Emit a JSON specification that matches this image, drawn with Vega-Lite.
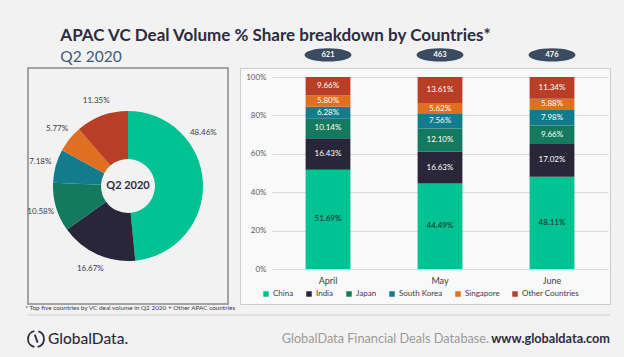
{
  "$schema": "https://vega.github.io/schema/vega-lite/v6.json",
  "background": "#f2f2f2",
  "padding": {"top": 27, "left": 24, "right": 14, "bottom": 7},
  "config": {"font": "Lato", "view": {"stroke": null}},
  "datasets": {
    "shares": [
      {"month": "April", "country": "China", "rank": 1, "share": 0.5169},
      {"month": "April", "country": "India", "rank": 2, "share": 0.1643},
      {"month": "April", "country": "Japan", "rank": 3, "share": 0.1014},
      {"month": "April", "country": "South Korea", "rank": 4, "share": 0.0628},
      {"month": "April", "country": "Singapore", "rank": 5, "share": 0.058},
      {"month": "April", "country": "Other Countries", "rank": 6, "share": 0.0966},
      {"month": "May", "country": "China", "rank": 1, "share": 0.4449},
      {"month": "May", "country": "India", "rank": 2, "share": 0.1663},
      {"month": "May", "country": "Japan", "rank": 3, "share": 0.121},
      {"month": "May", "country": "South Korea", "rank": 4, "share": 0.0756},
      {"month": "May", "country": "Singapore", "rank": 5, "share": 0.0562},
      {"month": "May", "country": "Other Countries", "rank": 6, "share": 0.1361},
      {"month": "June", "country": "China", "rank": 1, "share": 0.4811},
      {"month": "June", "country": "India", "rank": 2, "share": 0.1702},
      {"month": "June", "country": "Japan", "rank": 3, "share": 0.0966},
      {"month": "June", "country": "South Korea", "rank": 4, "share": 0.0798},
      {"month": "June", "country": "Singapore", "rank": 5, "share": 0.0588},
      {"month": "June", "country": "Other Countries", "rank": 6, "share": 0.1134}
    ],
    "q2": [
      {"country": "China", "rank": 1, "share": 0.4846},
      {"country": "India", "rank": 2, "share": 0.1667},
      {"country": "Japan", "rank": 3, "share": 0.1058},
      {"country": "South Korea", "rank": 4, "share": 0.0718},
      {"country": "Singapore", "rank": 5, "share": 0.0577},
      {"country": "Other Countries", "rank": 6, "share": 0.1135}
    ],
    "totals": [
      {"month": "April", "deals": 621},
      {"month": "May", "deals": 463},
      {"month": "June", "deals": 476}
    ],
    "one": [{"label": "Q2 2020"}]
  },
  "title": {
    "text": "APAC VC Deal Volume % Share breakdown by Countries*",
    "subtitle": "Q2 2020",
    "anchor": "start",
    "dx": 36,
    "offset": -19,
    "font": "Lato",
    "fontSize": 17,
    "fontWeight": "bold",
    "color": "#2d2c3e",
    "subtitleFont": "Lato",
    "subtitleFontSize": 15.5,
    "subtitleColor": "#3f5b7a",
    "subtitlePadding": 5
  },
  "spacing": 1,
  "vconcat": [
    {
      "bounds": "flush",
      "spacing": 12,
      "resolve": {"scale": {"color": "independent"}, "legend": {"color": "independent"}},
      "hconcat": [
        {
          "width": 200,
          "height": 236,
          "view": {"fill": "#f2f2f2", "stroke": "#a3a3a3", "strokeWidth": 2},
          "title": {
            "text": "* Top five countries by VC deal volume in Q2 2020  + Other APAC countries",
            "orient": "bottom",
            "anchor": "start",
            "fontSize": 6.4,
            "fontWeight": "normal",
            "color": "#404040",
            "offset": 1,
            "dx": -2
          },
          "layer": [
            {
              "data": {"name": "q2"},
              "mark": {"type": "arc", "innerRadius": 27, "outerRadius": 75},
              "encoding": {
                "theta": {"field": "share", "type": "quantitative", "stack": true},
                "order": {"field": "rank", "type": "quantitative"},
                "color": {
                  "field": "country",
                  "type": "nominal",
                  "scale": {
                    "domain": ["China", "India", "Japan", "South Korea", "Singapore", "Other Countries"],
                    "range": ["#00c292", "#29263a", "#137a60", "#137c8c", "#e06f22", "#b83e26"]
                  },
                  "legend": null
                }
              }
            },
            {
              "data": {"name": "q2"},
              "mark": {"type": "text", "radius": 91, "fontSize": 8, "color": "#404040"},
              "encoding": {
                "theta": {"field": "share", "type": "quantitative", "stack": true},
                "order": {"field": "rank", "type": "quantitative"},
                "text": {"condition": {"test": "datum.country !== 'China'", "field": "share", "type": "quantitative", "format": ".2%"}, "value": ""}
              }
            },
            {
              "data": {"name": "q2"},
              "mark": {"type": "text", "radius": 92, "fontSize": 8, "color": "#404040"},
              "encoding": {
                "theta": {"field": "share", "type": "quantitative", "stack": true, "bandPosition": 0.315},
                "order": {"field": "rank", "type": "quantitative"},
                "text": {"condition": {"test": "datum.country === 'China'", "field": "share", "type": "quantitative", "format": ".2%"}, "value": ""}
              }
            },
            {
              "data": {"name": "one"},
              "mark": {"type": "text", "fontSize": 11, "fontWeight": "bold", "color": "#2d2c3e"},
              "encoding": {"text": {"field": "label"}}
            }
          ]
        },
        {
          "width": 370,
          "height": 236,
          "view": {"fill": "#f9f9f9", "stroke": "#cccccc"},
          "encoding": {
            "x": {
              "field": "month",
              "type": "nominal",
              "sort": ["April", "May", "June"],
              "scale": {"range": [32, 368], "paddingInner": 0.6, "paddingOuter": 0.3},
              "axis": {"title": null, "domain": false, "ticks": false, "labelAngle": 0, "labelFontSize": 9, "labelColor": "#404040", "labelPadding": 7, "offset": -35}
            }
          },
          "layer": [
            {
              "data": {"name": "shares"},
              "mark": {"type": "bar"},
              "encoding": {
                "y": {
                  "field": "share",
                  "type": "quantitative",
                  "stack": "zero",
                  "scale": {"domain": [0, 1], "range": [201, 9], "nice": false},
                  "axis": {"title": null, "domain": false, "ticks": false, "values": [0, 0.2, 0.4, 0.6, 0.8, 1], "format": "%", "labelFontSize": 8, "labelColor": "#595959", "labelPadding": 6, "offset": -32, "gridColor": "#d9d9d9"}
                },
                "order": {"field": "rank", "type": "quantitative"},
                "color": {
                  "field": "country",
                  "type": "nominal",
                  "scale": {
                    "domain": ["China", "India", "Japan", "South Korea", "Singapore", "Other Countries"],
                    "range": ["#00c292", "#29263a", "#137a60", "#137c8c", "#e06f22", "#b83e26"]
                  },
                  "legend": {"orient": "none", "legendX": 22, "legendY": 222, "direction": "horizontal", "title": null, "symbolType": "square", "symbolSize": 30, "symbolStrokeWidth": 0, "labelFontSize": 8, "labelColor": "#404040", "labelOffset": 3, "columnPadding": 11}
                }
              }
            },
            {
              "data": {"name": "shares"},
              "mark": {"type": "text", "fontSize": 8},
              "encoding": {
                "y": {"field": "share", "type": "quantitative", "stack": "zero", "bandPosition": 0.5},
                "order": {"field": "rank", "type": "quantitative"},
                "text": {"field": "share", "type": "quantitative", "format": ".2%"},
                "color": {"condition": {"test": "datum.country === 'China'", "value": "#1e2a26"}, "value": "#ffffff"}
              }
            },
            {
              "data": {"name": "totals"},
              "mark": {"type": "point", "shape": "M -1 0 A 1 0.28 0 1 0 1 0 A 1 0.28 0 1 0 -1 0 Z", "size": 2209, "filled": true, "color": "#3b4b62", "opacity": 1, "clip": false},
              "encoding": {"y": {"datum": 1.115}}
            },
            {
              "data": {"name": "totals"},
              "mark": {"type": "text", "fontSize": 7.5, "fontWeight": "bold", "color": "#ffffff"},
              "encoding": {"y": {"datum": 1.115}, "text": {"field": "deals"}}
            }
          ]
        }
      ]
    },
    {
      "width": 582,
      "height": 30,
      "data": {"name": "one"},
      "encoding": {
        "y": {"datum": 0.2, "type": "quantitative", "scale": {"domain": [0, 1]}, "axis": null}
      },
      "layer": [
        {
          "mark": {"type": "rule", "color": "#cfcfcf", "strokeWidth": 1},
          "encoding": {"y": {"datum": 1, "type": "quantitative"}}
        },
        {
          "mark": {"type": "point", "shape": "M 0.8 -0.98 A 1 1 0 0 0 0.8 0.98 M 1.3 -0.95 A 1 1 0 0 1 1.2 0.98 M 0.85 -0.55 L 1.2 0.45", "size": 256, "filled": false, "strokeWidth": 1.8, "color": "#2d2c3e", "opacity": 1},
          "encoding": {"x": {"datum": 0, "type": "quantitative", "scale": {"domain": [0, 1]}, "axis": null}}
        },
        {
          "mark": {"type": "text", "text": "GlobalData.", "align": "left", "dx": 20, "fontSize": 15.5, "fontWeight": 500, "color": "#2d2c3e"},
          "encoding": {"x": {"datum": 0, "type": "quantitative"}}
        },
        {
          "mark": {"type": "text", "text": "www.globaldata.com", "align": "right", "fontSize": 12.7, "fontWeight": "bold", "color": "#2d2c3e"},
          "encoding": {"x": {"datum": 1, "type": "quantitative"}}
        },
        {
          "mark": {"type": "text", "text": "GlobalData Financial Deals Database.", "align": "right", "dx": -121, "fontSize": 12.7, "color": "#9a9a9a"},
          "encoding": {"x": {"datum": 1, "type": "quantitative"}}
        }
      ]
    }
  ]
}
